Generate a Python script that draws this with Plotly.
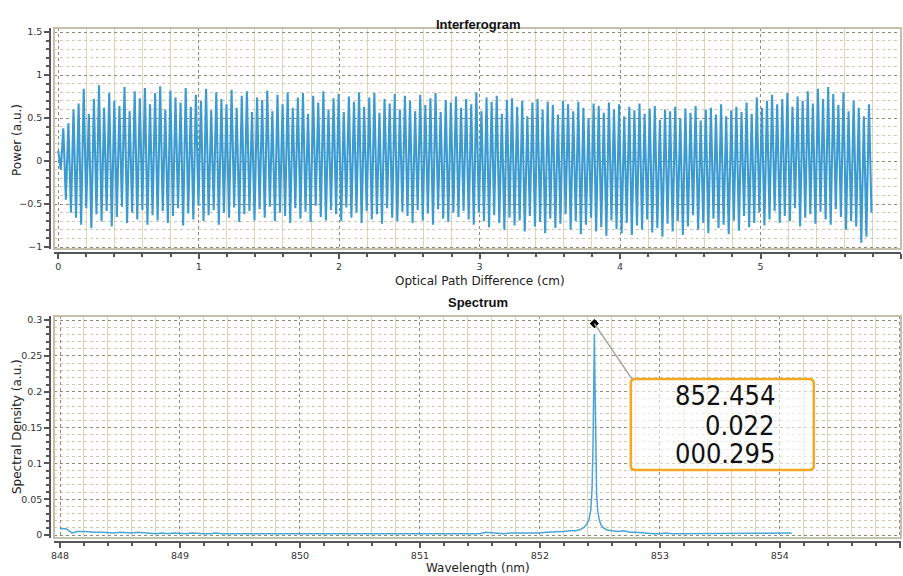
import numpy as np
import plotly.graph_objects as go

# ---------------- data ----------------
opd_start = 0.0
opd_end = 5.79

interf_upper = [
    0.12, 0.38, 0.44, 0.60, 0.67, 0.84, 0.55, 0.72, 0.88, 0.62, 0.79, 0.70, 0.64, 0.86, 0.58, 0.81, 0.73, 0.85, 0.66, 0.79,
    0.87, 0.60, 0.82, 0.74, 0.68, 0.85, 0.63, 0.77, 0.70, 0.84, 0.59, 0.80, 0.72, 0.66, 0.83, 0.62, 0.76, 0.81, 0.57, 0.74,
    0.71, 0.82, 0.58, 0.77, 0.66, 0.80, 0.62, 0.74, 0.79, 0.55, 0.76, 0.68, 0.81, 0.60, 0.73, 0.78, 0.57, 0.75, 0.69, 0.80,
    0.63, 0.74, 0.79, 0.56, 0.72, 0.67, 0.78, 0.60, 0.76, 0.70, 0.58, 0.77, 0.65, 0.73, 0.79, 0.57, 0.71, 0.68, 0.75, 0.62,
    0.72, 0.66, 0.80, 0.58, 0.74, 0.69, 0.76, 0.55, 0.71, 0.73, 0.63, 0.70, 0.52, 0.68, 0.72, 0.60, 0.69, 0.65, 0.54, 0.70,
    0.66, 0.58, 0.69, 0.62, 0.50, 0.67, 0.64, 0.56, 0.68, 0.60, 0.66, 0.52, 0.63, 0.59, 0.67, 0.55, 0.61, 0.64, 0.48, 0.60,
    0.58, 0.63, 0.50, 0.61, 0.56, 0.64, 0.47, 0.60, 0.62, 0.54, 0.66, 0.52, 0.59, 0.63, 0.57, 0.68, 0.55, 0.74, 0.62, 0.70,
    0.77, 0.66, 0.72, 0.79, 0.63, 0.75, 0.70, 0.81, 0.67, 0.84, 0.72, 0.86, 0.78, 0.65, 0.80, 0.58, 0.70, 0.62, 0.52, 0.66,
]
interf_lower = [
    -0.10, -0.45, -0.60, -0.66, -0.74, -0.55, -0.78, -0.62, -0.70, -0.58, -0.76, -0.65, -0.53, -0.72, -0.60, -0.68, -0.57, -0.74, -0.63, -0.69,
    -0.58, -0.72, -0.64, -0.55, -0.75, -0.61, -0.68, -0.52, -0.70, -0.63, -0.57, -0.74, -0.60, -0.66, -0.54, -0.71, -0.62, -0.58, -0.69, -0.56,
    -0.66, -0.53, -0.70, -0.60, -0.64, -0.72, -0.55, -0.67, -0.59, -0.71, -0.52, -0.65, -0.69, -0.57, -0.62, -0.70, -0.54, -0.66, -0.60, -0.72,
    -0.58, -0.68, -0.62, -0.73, -0.55, -0.66, -0.70, -0.59, -0.64, -0.72, -0.57, -0.69, -0.61, -0.74, -0.56, -0.67, -0.71, -0.60, -0.65, -0.58,
    -0.68, -0.74, -0.60, -0.70, -0.77, -0.63, -0.72, -0.80, -0.66, -0.75, -0.69, -0.82, -0.64, -0.76, -0.71, -0.84, -0.67, -0.78, -0.73, -0.62,
    -0.80, -0.70, -0.85, -0.74, -0.66, -0.82, -0.77, -0.87, -0.69, -0.79, -0.84, -0.72, -0.86, -0.75, -0.80, -0.68, -0.83, -0.78, -0.88, -0.73,
    -0.82, -0.70, -0.86, -0.76, -0.63, -0.80, -0.72, -0.84, -0.67, -0.78, -0.74, -0.85, -0.69, -0.81, -0.64, -0.77, -0.72, -0.60, -0.75, -0.68,
    -0.58, -0.72, -0.64, -0.70, -0.55, -0.76, -0.66, -0.62, -0.73, -0.59, -0.68, -0.74, -0.56, -0.65, -0.80, -0.70, -0.76, -0.95, -0.88, -0.60,
]

# spectrum: baseline part 1 (848.00 .. 852.30, step 0.05)
spec_base1 = [
    0.009, 0.009, 0.003, 0.005, 0.005, 0.004, 0.004, 0.004, 0.003, 0.003,
    0.004, 0.003, 0.003, 0.004, 0.003, 0.003, 0.002, 0.003, 0.002, 0.003,
    0.002, 0.002, 0.003, 0.002, 0.002, 0.002, 0.003, 0.002, 0.002, 0.002,
    0.002, 0.003, 0.002, 0.002, 0.002, 0.003, 0.003, 0.002, 0.002, 0.003,
    0.002, 0.002, 0.002, 0.002, 0.003, 0.002, 0.002, 0.003, 0.002, 0.002,
    0.002, 0.002, 0.003, 0.002, 0.002, 0.002, 0.002, 0.003, 0.002, 0.002,
    0.002, 0.003, 0.002, 0.002, 0.002, 0.003, 0.002, 0.002, 0.002, 0.002,
    0.002, 0.004, 0.003, 0.003, 0.002, 0.003, 0.003, 0.002, 0.003, 0.002,
    0.003, 0.004, 0.004, 0.005, 0.005, 0.006, 0.006,
]
# peak region
peak_wl = [852.34, 852.37, 852.39, 852.41, 852.425, 852.435, 852.443, 852.449, 852.454,
           852.459, 852.465, 852.473, 852.482, 852.495, 852.51, 852.53, 852.56]
peak_val = [0.008, 0.011, 0.015, 0.022, 0.036, 0.065, 0.125, 0.215, 0.280,
            0.215, 0.115, 0.058, 0.034, 0.021, 0.014, 0.010, 0.007]
# baseline part 2 (852.60 .. 854.10, step 0.05)
spec_base2 = [
    0.006, 0.005, 0.006, 0.004, 0.004, 0.003, 0.003, 0.002, 0.002, 0.003,
    0.002, 0.002, 0.003, 0.002, 0.002, 0.002, 0.003, 0.002, 0.002, 0.003,
    0.002, 0.002, 0.002, 0.003, 0.002, 0.002, 0.002, 0.003, 0.002, 0.002, 0.003,
]

marker_wl = 852.454
marker_val = 0.295
readout = ["852.454", "0.022", "000.295"]

# ---------------- build series ----------------
interf_y = []
for u, l in zip(interf_upper, interf_lower):
    interf_y += [u, l]
interf_x = np.linspace(opd_start, opd_end, len(interf_y))

wl1 = 848.0 + 0.05 * np.arange(len(spec_base1))
wl2 = 852.60 + 0.05 * np.arange(len(spec_base2))
spec_x = list(wl1) + peak_wl + list(wl2)
spec_y = spec_base1 + peak_val + spec_base2

# ---------------- figure ----------------
W, H = 903, 576
ml, mr, mt, mb = 50, 2, 28, 34
ph = H - mt - mb
pw = W - ml - mr

def py(pix):  # pixel y -> paper fraction
    return (H - mb - pix) / ph

def px(pix):
    return (pix - ml) / pw

line_col = "#3b9bd1"
major_grid = "#8c8a78"
minor_grid = "#ddd6bd"
axis_col = "#555555"
font_main = "DejaVu Sans"

fig = go.Figure()
fig.add_trace(go.Scatter(x=interf_x, y=interf_y, mode="lines",
                         line=dict(color=line_col, width=2.1),
                         xaxis="x", yaxis="y", showlegend=False))
fig.add_trace(go.Scatter(x=spec_x, y=spec_y, mode="lines",
                         line=dict(color="#4aa6d6", width=1.5),
                         xaxis="x2", yaxis="y2", showlegend=False))
fig.add_trace(go.Scatter(x=[marker_wl], y=[marker_val], mode="markers",
                         marker=dict(symbol="diamond", size=7, color="black"),
                         xaxis="x2", yaxis="y2", showlegend=False))

dom_x = [px(54), 1.0]
top_dom = [py(249), 1.0]
bot_dom = [py(538), py(316)]

tickfont = dict(family=font_main, size=9.5, color="#333333")
titlefont = dict(family=font_main, size=12, color="#222222")

common_x = dict(showline=True, linecolor=axis_col, linewidth=1.5,
                ticks="outside", ticklen=5, tickwidth=1.5, tickcolor=axis_col,
                tickfont=tickfont, zeroline=False, automargin=False,
                showgrid=True, gridcolor=major_grid, griddash="dot", gridwidth=1,
                domain=dom_x, anchor="free")
common_y = dict(showline=True, linecolor=axis_col, linewidth=1.5,
                ticks="outside", ticklen=5, tickwidth=1.5, tickcolor=axis_col,
                tickfont=tickfont, zeroline=False, automargin=False,
                showgrid=True, gridcolor=major_grid, griddash="dot", gridwidth=1,
                anchor="free", position=0)

fig.update_layout(
    width=W, height=H,
    margin=dict(l=ml, r=mr, t=mt, b=mb, autoexpand=False),
    paper_bgcolor="white", plot_bgcolor="white",
    xaxis=dict(**common_x, range=[-0.03, 6.0], dtick=1, tick0=0, position=py(253),
               minor=dict(dtick=0.2, ticks="outside", ticklen=3, tickcolor=axis_col,
                          showgrid=True, gridcolor=minor_grid, griddash="solid")),
    yaxis=dict(**common_y, domain=top_dom, range=[-1.023, 1.547], dtick=0.5, tick0=0,
               minor=dict(dtick=0.1, ticks="outside", ticklen=3, tickcolor=axis_col,
                          showgrid=True, gridcolor="#cfc9b0", griddash="dot")),
    xaxis2=dict(**common_x, range=[847.95, 855.01], dtick=1, tick0=848, position=0,
                minor=dict(dtick=0.2, ticks="outside", ticklen=3, tickcolor=axis_col,
                           showgrid=True, gridcolor=minor_grid, griddash="solid")),
    yaxis2=dict(**common_y, domain=bot_dom, range=[-0.004, 0.3056], dtick=0.05, tick0=0,
                minor=dict(dtick=0.01, ticks="outside", ticklen=3, tickcolor=axis_col,
                           showgrid=True, gridcolor="#cfc9b0", griddash="dot")),
)

# axis titles
fig.add_annotation(text="Optical Path Difference (cm)", xref="paper", yref="paper",
                   x=px(480), y=py(281), showarrow=False, font=titlefont,
                   xanchor="center", yanchor="middle")
fig.add_annotation(text="Wavelength (nm)", xref="paper", yref="paper",
                   x=px(478), y=py(568), showarrow=False, font=titlefont,
                   xanchor="center", yanchor="middle")
fig.add_annotation(text="Power (a.u.)", xref="paper", yref="paper",
                   x=px(17), y=py(140), textangle=-90, showarrow=False, font=titlefont,
                   xanchor="center", yanchor="middle")
fig.add_annotation(text="Spectral Density (a.u.)", xref="paper", yref="paper",
                   x=px(17), y=py(427), textangle=-90, showarrow=False, font=titlefont,
                   xanchor="center", yanchor="middle")

# plot frames
for xr, yr in (("x domain", "y domain"), ("x2 domain", "y2 domain")):
    fig.add_shape(type="rect", xref=xr, yref=yr, x0=0, x1=1, y0=0, y1=1,
                  line=dict(color="#c4c0ac", width=2), layer="above")

# chart titles
fig.add_annotation(text="<b>Interferogram</b>", xref="paper", yref="paper",
                   x=px(478), y=py(15), showarrow=False,
                   font=dict(family="Liberation Sans", size=13, color="#111111"))
fig.add_annotation(text="<b>Spectrum</b>", xref="paper", yref="paper",
                   x=px(478), y=py(302), showarrow=False,
                   font=dict(family="Liberation Sans", size=13, color="#111111"))

# readout box
bx0, bx1 = 852.758, 854.283
by0, by1 = 0.0907, 0.2177
rx, ry = 0.04, 0.0056
path = (f"M {bx0+rx},{by1} L {bx1-rx},{by1} Q {bx1},{by1} {bx1},{by1-ry} "
        f"L {bx1},{by0+ry} Q {bx1},{by0} {bx1-rx},{by0} "
        f"L {bx0+rx},{by0} Q {bx0},{by0} {bx0},{by0+ry} "
        f"L {bx0},{by1-ry} Q {bx0},{by1} {bx0+rx},{by1} Z")
fig.add_shape(type="path", path=path, xref="x2", yref="y2",
              line=dict(color="#f5a623", width=2.5), fillcolor="rgba(255,255,255,0.6)",
              layer="above")
fig.add_shape(type="line", xref="x2", yref="y2", x0=marker_wl, y0=marker_val,
              x1=bx0 + 0.01, y1=by1, line=dict(color="#a9a89c", width=1.5))

for txt, yv in zip(readout, [0.1953, 0.1535, 0.1144]):
    fig.add_annotation(text=txt, xref="x2", yref="y2", x=853.98, y=yv,
                       xanchor="right", yanchor="middle", showarrow=False,
                       font=dict(family="Liberation Sans Narrow, DejaVu Sans Condensed",
                                 size=27, color="#111111"))

fig.write_html("out.html", config={"displayModeBar": False},
               post_script="document.body.style.margin='0';document.body.style.overflow='hidden';")
